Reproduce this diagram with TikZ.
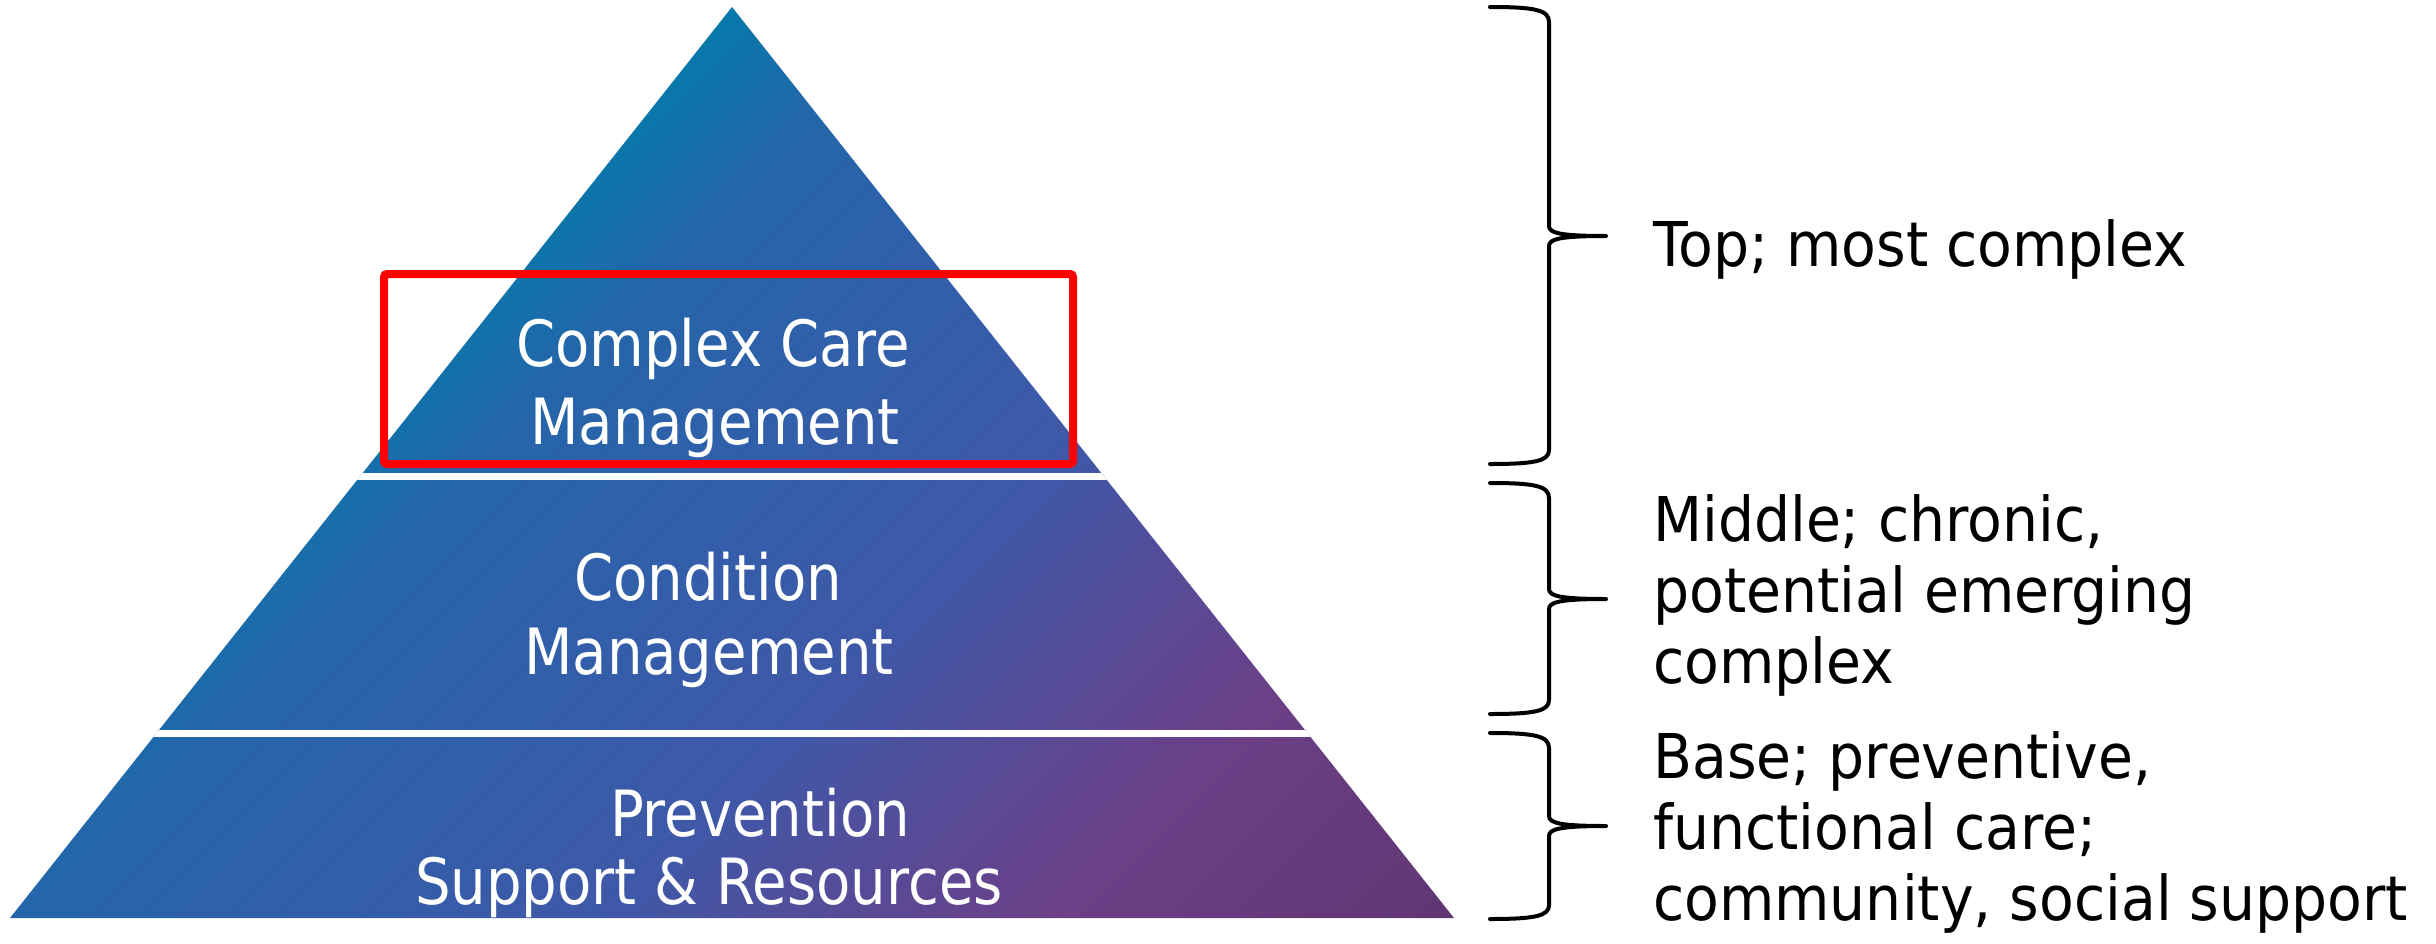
\documentclass[tikz,border=0pt]{standalone}
\usepackage{fontspec}
% Humanist sans, narrowed a little for the labels
\newfontfamily\tierfont{DejaVu Sans}[FakeStretch=0.88]
\newfontfamily\notefont{DejaVu Sans}[FakeStretch=0.92]

\definecolor{pyrTeal}{HTML}{0679AA}
\definecolor{pyrBlue}{HTML}{2565AA}
\definecolor{pyrIndigo}{HTML}{3F58A8}
\definecolor{pyrViolet}{HTML}{574B97}
\definecolor{pyrPlum}{HTML}{6C3F86}
\definecolor{pyrDeep}{HTML}{5F3672}

% Diagonal gradient of the pyramid (the 25bp..75bp span covers the shaded box)
\pgfdeclarehorizontalshading{pyramidshade}{100bp}{%
  color(0bp)=(pyrTeal); color(25bp)=(pyrTeal); color(31bp)=(pyrBlue);
  color(49bp)=(pyrIndigo); color(56bp)=(pyrViolet); color(63bp)=(pyrPlum);
  color(75bp)=(pyrDeep); color(100bp)=(pyrDeep)}

\begin{document}
\begin{tikzpicture}[x=1bp,y=-1bp,
  tiertext/.style={font=\tierfont\fontsize{64}{78}\selectfont, text=white,
                   inner sep=0pt, anchor=base},
  notetext/.style={font=\notefont\fontsize{62}{71}\selectfont, text=black,
                   inner sep=0pt, anchor=base west},
  bracestroke/.style={draw=black, line width=4bp, line join=round, line cap=round},
  focusbox/.style={draw=red, line width=8bp, rounded corners=3bp}]

\useasboundingbox (0,0) rectangle (2436,943);

% pyramid outline
\coordinate (apex) at (732,7);
\coordinate (baseL) at (10,918);
\coordinate (baseR) at (1454,918);

\begin{scope}
  \clip (apex) -- (baseR) -- (baseL) -- cycle;
  % gradient running down-right from the apex
  \begin{scope}[transform canvas={rotate around={-45:(apex)}}]
    \shade[shading=pyramidshade] (732,-3) rectangle (1887,1172);
  \end{scope}
  % white gaps between the three tiers
  \fill[white] (0,473) rectangle (1500,480);
  \fill[white] (0,730) rectangle (1500,737);
\end{scope}

% tier labels
\node[tiertext] (topA) at (713,366) {Complex Care};
\node[tiertext] (topB) at (715,444) {Management};
\node[tiertext] (midA) at (708,600) {Condition};
\node[tiertext] (midB) at (709,674) {Management};
\node[tiertext] (baseA) at (760,836) {Prevention};
\node[tiertext] (baseB) at (709,904) {Support \& Resources};

% highlight around the top tier
\draw[focusbox] (384,274) rectangle (1073,464);

% braces
\draw[bracestroke] (1490,7) .. controls (1535,7) and (1549,10) .. (1549,22)
  -- (1549,226) .. controls (1549,233) and (1560,236) .. (1606,236)
  .. controls (1560,236) and (1549,239) .. (1549,246)
  -- (1549,450) .. controls (1549,461) and (1535,464) .. (1490,464);
\draw[bracestroke] (1490,483) .. controls (1535,483) and (1549,486) .. (1549,498)
  -- (1549,589) .. controls (1549,596) and (1560,599) .. (1606,599)
  .. controls (1560,599) and (1549,602) .. (1549,609)
  -- (1549,700) .. controls (1549,711) and (1535,714) .. (1490,714);
\draw[bracestroke] (1490,733) .. controls (1535,733) and (1549,736) .. (1549,748)
  -- (1549,816) .. controls (1549,823) and (1560,826) .. (1606,826)
  .. controls (1560,826) and (1549,829) .. (1549,836)
  -- (1549,905) .. controls (1549,916) and (1535,919) .. (1490,919);

% descriptions
\node[notetext] (noteTop) at (1653,266) {Top; most complex};
\node[notetext] (noteMidA) at (1653,541) {Middle; chronic,};
\node[notetext] (noteMidB) at (1653,612) {potential emerging};
\node[notetext] (noteMidC) at (1653,683) {complex};
\node[notetext] (noteBaseA) at (1653,778) {Base; preventive,};
\node[notetext] (noteBaseB) at (1653,849) {functional care;};
\node[notetext] (noteBaseC) at (1653,920) {community, social support};
\end{tikzpicture}
\end{document}
